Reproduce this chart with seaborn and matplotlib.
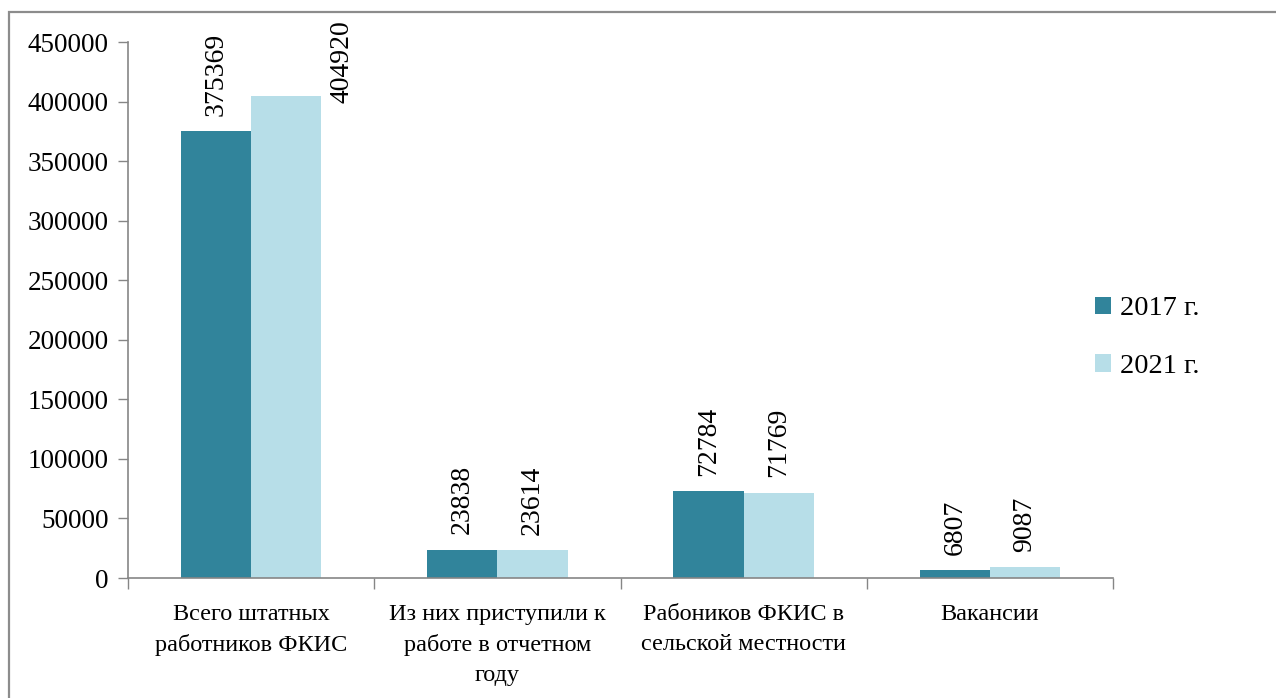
import matplotlib
matplotlib.use("Agg")
import matplotlib.pyplot as plt
from matplotlib.patches import Patch, Rectangle
import seaborn as sns
import pandas as pd

categories = ["Всего штатных\nработников ФКИС",
              "Из них приступили к\nработе в отчетном\nгоду",
              "Рабоников ФКИС в\nсельской местности",
              "Вакансии"]
series_names = ["2017 г.", "2021 г."]
values_2017 = [375369, 23838, 72784, 6807]
values_2021 = [404920, 23614, 71769, 9087]
y_ticks = [0, 50000, 100000, 150000, 200000, 250000, 300000, 350000, 400000, 450000]
colors = ["#31849B", "#B7DEE8"]

df = pd.DataFrame({
    "cat": categories * 2,
    "year": [series_names[0]] * 4 + [series_names[1]] * 4,
    "val": values_2017 + values_2021,
})

sns.set_theme(style="white")
plt.rcParams['font.family'] = ['Liberation Serif', 'DejaVu Serif']
plt.rcParams['text.color'] = 'black'
plt.rcParams['xtick.color'] = 'black'
plt.rcParams['ytick.color'] = 'black'

W, H = 1276, 698
fig = plt.figure(figsize=(W / 100, H / 100), dpi=100)
ax = fig.add_axes([128 / W, 1 - 578 / H, (1113 - 128) / W, (578 - 42) / H])

sns.barplot(data=df, x="cat", y="val", hue="year", palette=colors,
            width=0.57, gap=0, saturation=1, ax=ax, legend=False,
            edgecolor="none", linewidth=0)

ax.set_xlim(-0.5, 3.5)
ax.set_ylim(0, 450000)
ax.set_yticks(y_ticks)
ax.set_yticklabels([str(v) for v in y_ticks], fontsize=19.5)
ax.set_xticks(range(4))
ax.set_xticklabels(categories, fontsize=17.5, linespacing=1.52)
ax.set_xticks([-0.5, 0.5, 1.5, 2.5, 3.5], minor=True)
ax.tick_params(axis="x", which="major", length=0, pad=19, labelcolor="black")
ax.tick_params(axis="x", which="minor", length=8, width=1, color="#868686", direction="out", bottom=True)
ax.tick_params(axis="y", length=7, width=1, color="#868686", direction="out", left=True, pad=7, labelcolor="black")
ax.set_xlabel("")
ax.set_ylabel("")
for s in ["top", "right"]:
    ax.spines[s].set_visible(False)
for s in ["left", "bottom"]:
    ax.spines[s].set_color("#868686")
    ax.spines[s].set_linewidth(1.2)
ax.grid(False)

ymax = ax.get_ylim()[1]
for cont in ax.containers:
    for bar, v in zip(cont.patches, cont.datavalues):
        h = bar.get_height()
        if h > 0.85 * ymax:
            # label would not fit above: Excel places it beside the bar
            ax.annotate(str(int(v)), xy=(bar.get_x() + bar.get_width(), h),
                        xytext=(15, -5), textcoords="offset points",
                        rotation=90, ha="center", va="bottom", fontsize=20,
                        color="black", annotation_clip=False)
        else:
            ax.annotate(str(int(v)), xy=(bar.get_x() + bar.get_width() / 2, h),
                        xytext=(0, 11), textcoords="offset points",
                        rotation=90, ha="center", va="bottom", fontsize=20,
                        color="black")

handles = [Patch(facecolor=c, edgecolor="none") for c in colors]
fig.legend(handles, series_names, loc="upper left", bbox_to_anchor=(1084 / W, 1 - 285 / H),
           frameon=False, fontsize=20.5, handlelength=0.55, handleheight=0.55,
           handletextpad=0.3, labelspacing=1.15, borderaxespad=0)

fig.patches.append(Rectangle((9 / W, -0.1), 1.2, (1 - 12 / H) + 0.1,
                             transform=fig.transFigure, fill=False,
                             edgecolor="#8c8c8c", linewidth=1.6, clip_on=False))

fig.savefig("out.png", dpi=100)
